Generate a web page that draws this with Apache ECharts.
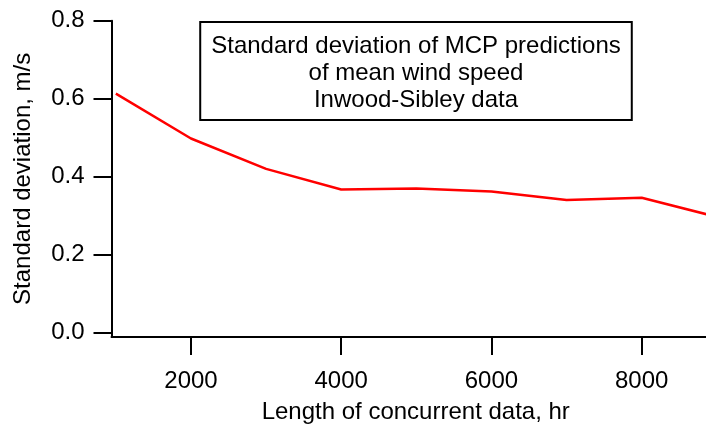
<!DOCTYPE html>
<html>
<head>
<meta charset="utf-8">
<script src="https://cdn.jsdelivr.net/npm/echarts@6/dist/echarts.min.js"></script>
<style>html,body{margin:0;padding:0;background:#fff}#c{width:706px;height:429px}</style>
</head>
<body>
<div id="c"></div>
<script>
const hours = [1000, 2000, 3000, 4000, 5000, 6000, 7000, 8000, 9000];
const stdDev = [0.613, 0.498, 0.420, 0.367, 0.370, 0.362, 0.340, 0.346, 0.297];
const xTicks = [2000, 4000, 6000, 8000];
const yTicks = [0, 0.2, 0.4, 0.6, 0.8];
const titleLines = ['Standard deviation of MCP predictions', 'of mean wind speed', 'Inwood-Sibley data'];
const xName = 'Length of concurrent data, hr';
const yName = 'Standard deviation, m/s';

const FONT = 'Liberation Sans';
const chart = echarts.init(document.getElementById('c'), null, {renderer: 'canvas'});
chart.setOption({
  animation: false,
  backgroundColor: '#fff',
  grid: {left: 111.5, right: 0, top: 20.7, bottom: 88, containLabel: false},
  xAxis: {
    type: 'value', min: 942, max: 8856,
    name: xName, nameLocation: 'middle', nameGap: 63,
    nameTextStyle: {fontFamily: FONT, fontSize: 24, color: '#000', padding: [0, 0, 0, 14]},
    axisLine: {onZero: false, lineStyle: {color: '#000', width: 2}},
    axisTick: {show: true, inside: false, length: 18, lineStyle: {color: '#000', width: 2}, customValues: xTicks},
    axisLabel: {customValues: xTicks, margin: 32, fontFamily: FONT, fontSize: 24, color: '#000', formatter: v => String(v)},
    splitLine: {show: false}
  },
  yAxis: {
    type: 'value', min: -0.011, max: 0.8,
    name: yName, nameLocation: 'middle', nameGap: 76,
    nameTextStyle: {fontFamily: FONT, fontSize: 24, color: '#000'},
    axisLine: {onZero: false, lineStyle: {color: '#000', width: 2}},
    axisTick: {show: true, inside: false, length: 18, lineStyle: {color: '#000', width: 2}, customValues: yTicks},
    axisLabel: {customValues: yTicks, margin: 27, fontFamily: FONT, fontSize: 24, color: '#000', formatter: v => v.toFixed(1)},
    splitLine: {show: false}
  },
  graphic: [{
    type: 'text', x: 416, y: 23,
    style: {
      text: titleLines.join('\n'),
      font: '24px "Liberation Sans"',
      fill: '#000', align: 'center', verticalAlign: 'top',
      lineHeight: 27,
      padding: [10, 10, 5, 10],
      borderColor: '#000', borderWidth: 2, backgroundColor: '#fff'
    },
    z: 100
  }],
  series: [{
    type: 'line',
    data: hours.map((h, i) => [h, stdDev[i]]),
    showSymbol: false, symbol: 'none',
    lineStyle: {color: '#ff0000', width: 2.5},
    clip: true
  }]
});
</script>
</body>
</html>
